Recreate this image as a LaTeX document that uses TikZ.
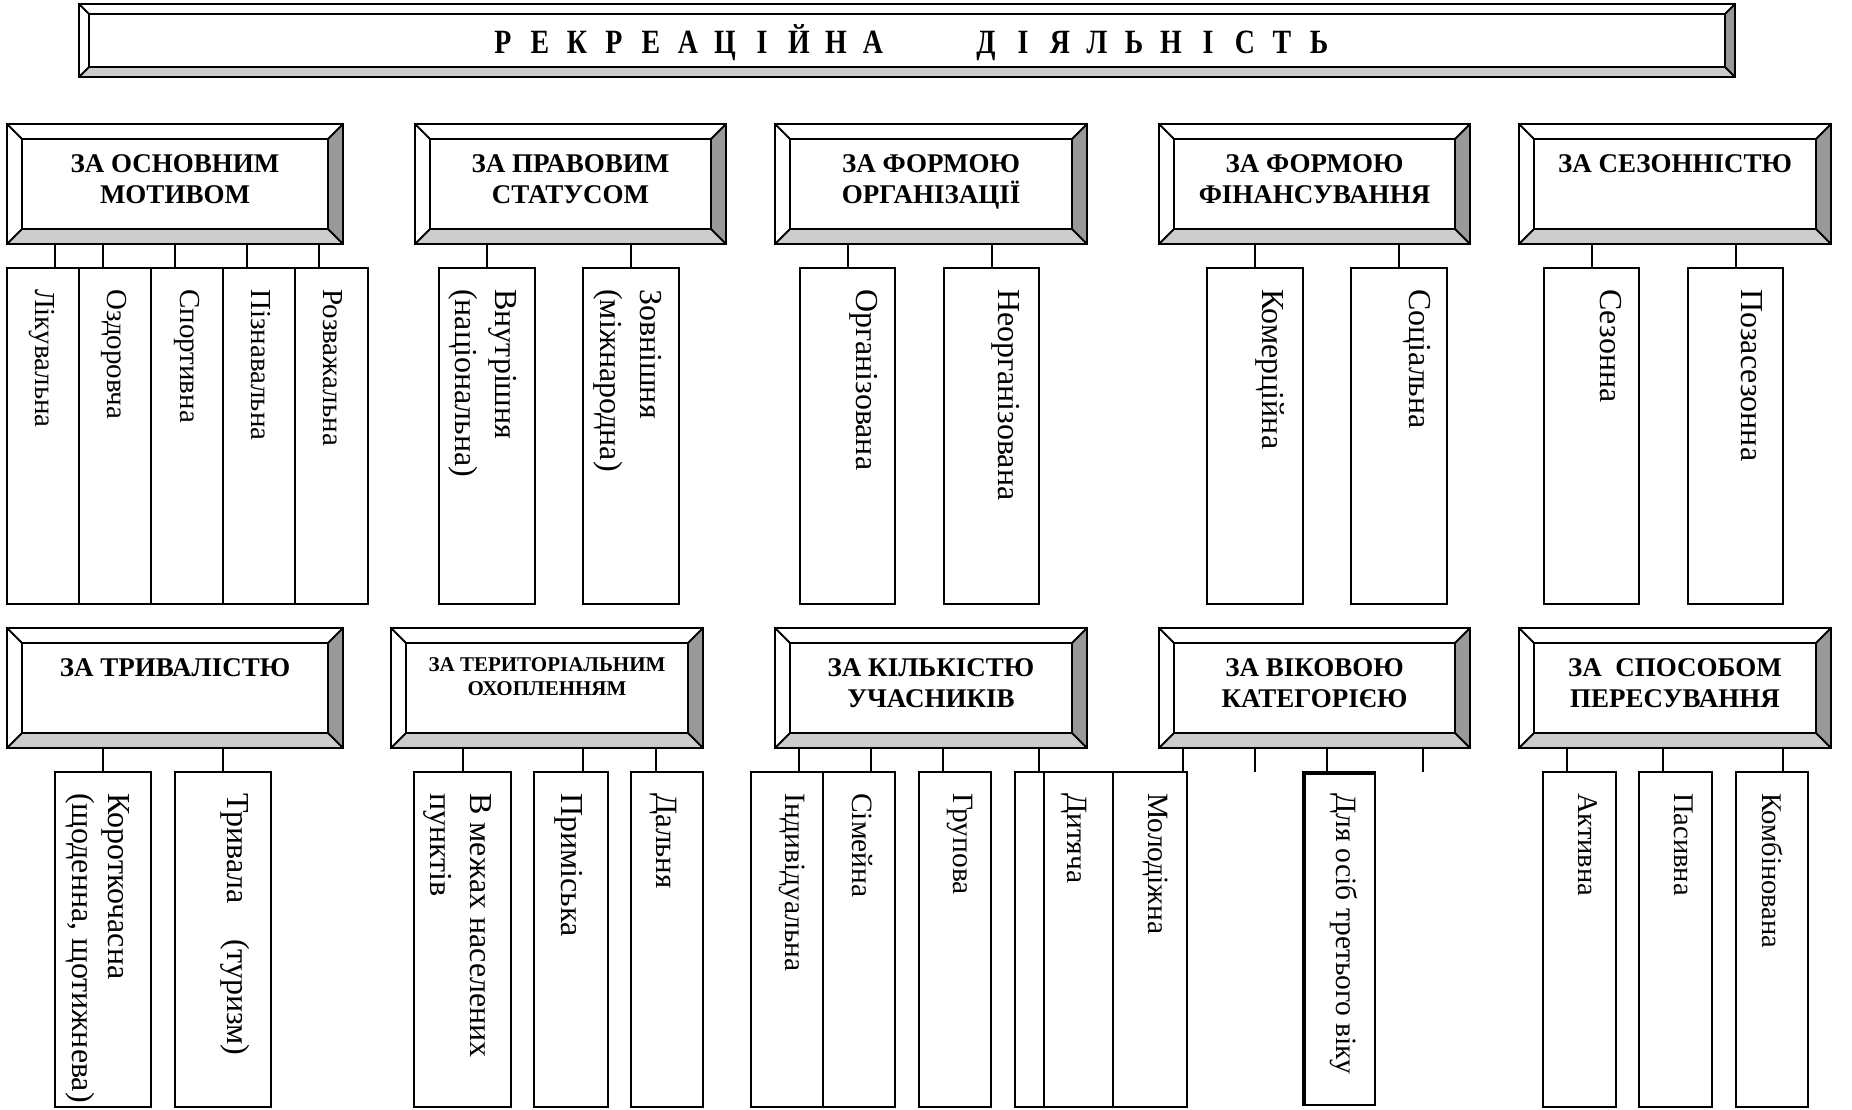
\documentclass[tikz,border=0pt]{standalone}
\usepackage{fontspec}
\setmainfont{Liberation Serif}
\newfontfamily\titlefont[FakeStretch=0.82]{Liberation Serif}
\usetikzlibrary{calc}
\definecolor{bevlight}{RGB}{204,204,204}
\definecolor{bevdark}{RGB}{153,153,153}
\def\itfs{29}
\def\itls{36}
\tikzset{
  frame/.style={draw=black, line width=2pt},
  hdrbox/.style={rectangle, draw=black, fill=white, line width=2pt, inner sep=0pt, outer sep=0pt, anchor=north west},
  itembox/.style={rectangle, draw=black, fill=white, line width=2pt, inner sep=0pt, outer sep=0pt, anchor=north west},
  hdrtext/.style={anchor=north, inner sep=0pt, align=center, font=\fontsize{27}{31}\selectfont\bfseries},
  smallhdrtext/.style={anchor=north, inner sep=0pt, align=center, font=\fontsize{21}{24}\selectfont\bfseries},
  itemtext/.style={rotate=-90, anchor=north west, inner sep=0pt, align=left, font=\fontsize{\itfs}{\itls}\selectfont},
  link/.style={draw=black, line width=2pt},
}
\newcommand\mkbevel[2]{%
  \coordinate (#1-a) at ($(#1.north west)+(#2,#2)$);
  \coordinate (#1-b) at ($(#1.north east)+(-#2,#2)$);
  \coordinate (#1-c) at ($(#1.south east)+(-#2,-#2)$);
  \coordinate (#1-d) at ($(#1.south west)+(#2,-#2)$);
  \fill[bevlight] (#1.south west) -- (#1.south east) -- (#1-c) -- (#1-d) -- cycle;
  \fill[bevdark] (#1.north east) -- (#1.south east) -- (#1-c) -- (#1-b) -- cycle;
  \draw[frame] (#1-a) rectangle (#1-c);
  \draw[frame] (#1.north west) -- (#1-a) (#1.north east) -- (#1-b)
               (#1.south east) -- (#1-c) (#1.south west) -- (#1-d);
  \draw[frame] (#1.north west) rectangle (#1.south east);
}
% header: name, x1, y1, x2, y2
\newcommand\hdr[5]{%
  \node[hdrbox, minimum width={#4-#2}, minimum height={#5-#3}] (#1) at (#2,#3) {};
  \mkbevel{#1}{15}
}
% item: name, x1, x2, y1, y2, gap, text
\newcommand\itm[7]{%
  \node[itembox, minimum width={#3-#2}, minimum height={#5-#4}] (#1) at (#2,#4) {};
  \node[itemtext] (#1t) at ($(#1.north east)+(-#6,21)$) {#7};
}
% link: header, child, dx
\newcommand\lnk[3]{%
  \path ($(#2.north)+(#3,0)$) coordinate (#2-top);
  \draw[link] (#2-top) -- (#2-top |- #1.south);
}
\newcommand\tl[1]{\makebox[37pt]{#1}}

\begin{document}
\begin{tikzpicture}[x=1pt,y=-1pt]
\useasboundingbox (0,0) rectangle (1852,1109);

% title
\node[hdrbox, minimum width=1656, minimum height=73] (title) at (79,4) {};
\mkbevel{title}{10}
\node[anchor=base, inner sep=0pt, font=\titlefont\bfseries\fontsize{34}{38}\selectfont] (titlet) at (911,53)
 {\tl{Р}\tl{Е}\tl{К}\tl{Р}\tl{Е}\tl{А}\tl{Ц}\tl{І}\tl{Й}\tl{Н}\tl{А}\hspace{76pt}\tl{Д}\tl{І}\tl{Я}\tl{Л}\tl{Ь}\tl{Н}\tl{І}\tl{С}\tl{Т}\tl{Ь}};

% row 1 headers
\hdr{h1}{7}{124}{343}{244}
\node[hdrtext] (h1t) at ($(h1.north)+(0,30)$) {ЗА ОСНОВНИМ\\МОТИВОМ};
\hdr{h2}{415}{124}{726}{244}
\node[hdrtext] (h2t) at ($(h2.north)+(0,30)$) {ЗА ПРАВОВИМ\\СТАТУСОМ};
\hdr{h3}{775}{124}{1087}{244}
\node[hdrtext] (h3t) at ($(h3.north)+(0,30)$) {ЗА ФОРМОЮ\\ОРГАНІЗАЦІЇ};
\hdr{h4}{1159}{124}{1470}{244}
\node[hdrtext] (h4t) at ($(h4.north)+(0,30)$) {ЗА ФОРМОЮ\\ФІНАНСУВАННЯ};
\hdr{h5}{1519}{124}{1831}{244}
\node[hdrtext] (h5t) at ($(h5.north)+(0,30)$) {ЗА СЕЗОННІСТЮ};

% row 2 headers
\hdr{h6}{7}{628}{343}{748}
\node[hdrtext] (h6t) at ($(h6.north)+(0,30)$) {ЗА ТРИВАЛІСТЮ};
\hdr{h7}{391}{628}{703}{748}
\node[smallhdrtext] (h7t) at ($(h7.north)+(0,29)$) {ЗА ТЕРИТОРІАЛЬНИМ\\ОХОПЛЕННЯМ};
\hdr{h8}{775}{628}{1087}{748}
\node[hdrtext] (h8t) at ($(h8.north)+(0,30)$) {ЗА КІЛЬКІСТЮ\\УЧАСНИКІВ};
\hdr{h9}{1159}{628}{1470}{748}
\node[hdrtext] (h9t) at ($(h9.north)+(0,30)$) {ЗА ВІКОВОЮ\\КАТЕГОРІЄЮ};
\hdr{h10}{1519}{628}{1831}{748}
\node[hdrtext] (h10t) at ($(h10.north)+(0,30)$) {ЗА~~СПОСОБОМ\\ПЕРЕСУВАННЯ};

% row 1 items
\def\itfs{29}\def\itls{36}
\itm{a1}{7}{79}{268}{604}{24}{Лікувальна}
\itm{a2}{79}{151}{268}{604}{24}{Оздоровча}
\itm{a3}{151}{223}{268}{604}{23}{Спортивна}
\itm{a4}{223}{295}{268}{604}{24}{Пізнавальна}
\itm{a5}{295}{368}{268}{604}{25}{Розважальна}
\def\itfs{32}\def\itls{40}
\itm{b1}{439}{535}{268}{604}{18}{Внутрішня\\(національна)}
\itm{b2}{583}{679}{268}{604}{17}{Зовнішня\\(міжнародна)}
\itm{c1}{800}{895}{268}{604}{17}{Організована}
\itm{c2}{944}{1039}{268}{604}{19}{Неорганізована}
\itm{d1}{1207}{1303}{268}{604}{18}{Комерційна}
\itm{d2}{1351}{1447}{268}{604}{16}{Соціальна}
\itm{e1}{1544}{1639}{268}{604}{17}{Сезонна}
\itm{e2}{1688}{1783}{268}{604}{20}{Позасезонна}

% row 2 items
\def\itfs{32}\def\itls{36}
\itm{f1}{55}{151}{772}{1107}{21}{Короткочасна\\(щоденна, щотижнева)}
\itm{f2}{175}{271}{772}{1107}{21}{Тривала\hspace{35pt}(туризм)}
\def\itfs{32}\def\itls{40}
\itm{g1}{414}{511}{772}{1107}{19}{В межах населених\\пунктів}
\itm{g2}{534}{608}{772}{1107}{25}{Приміська}
\def\itfs{31}\def\itls{38}
\itm{g3}{631}{703}{772}{1107}{26}{Дальня}
\def\itfs{29.5}\def\itls{36}
\itm{i1}{751}{823}{772}{1107}{18}{Індивідуальна}
\itm{i2}{823}{895}{772}{1107}{22}{Сімейна}
\itm{i3}{919}{991}{772}{1107}{18}{Групова}
\node[itembox, minimum width=98, minimum height=335] (i4) at (1015,772) {};
\itm{j1}{1044}{1113}{772}{1107}{26}{Дитяча}
\itm{j2}{1113}{1187}{772}{1107}{19}{Молодіжна}
\itm{j3}{1303}{1375}{772}{1105}{17}{Для осіб третього віку}
\draw[line width=2pt] ($(j3.south west)+(2,0)$) -- ($(j3.north west)+(2,2)$) -- ($(j3.north east)+(0,2)$);
\def\itfs{28.5}\def\itls{36}
\itm{k1}{1543}{1616}{772}{1107}{19}{Активна}
\itm{k2}{1639}{1712}{772}{1107}{19}{Пасивна}
\itm{k3}{1736}{1808}{772}{1107}{25}{Комбінована}

% links row 1
\lnk{h1}{a1}{12}
\lnk{h1}{a2}{-12}
\lnk{h1}{a3}{-12}
\lnk{h1}{a4}{-12}
\lnk{h1}{a5}{-12.5}
\lnk{h2}{b1}{0}
\lnk{h2}{b2}{0}
\lnk{h3}{c1}{0}
\lnk{h3}{c2}{0}
\lnk{h4}{d1}{0}
\lnk{h4}{d2}{0}
\lnk{h5}{e1}{0}
\lnk{h5}{e2}{0}

% links row 2
\lnk{h6}{f1}{0}
\lnk{h6}{f2}{0}
\lnk{h7}{g1}{0}
\lnk{h7}{g2}{12}
\lnk{h7}{g3}{-11}
\lnk{h8}{i1}{12}
\lnk{h8}{i2}{12}
\lnk{h8}{i3}{-12}
\lnk{h8}{i4}{-25}
\lnk{h9}{j2}{33}
\lnk{h9}{j3}{-12}
\coordinate (dang1) at (1255,772);
\coordinate (dang2) at (1423,772);
\draw[link] (dang1 |- h9.south) -- (dang1);
\draw[link] (dang2 |- h9.south) -- (dang2);
\lnk{h10}{k1}{-12.5}
\lnk{h10}{k2}{-12.5}
\lnk{h10}{k3}{11}
\end{tikzpicture}
\end{document}
